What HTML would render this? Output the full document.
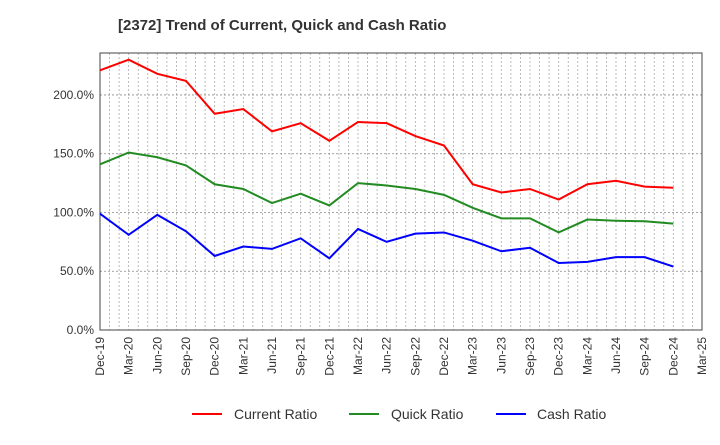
<!DOCTYPE html>
<html><head><meta charset="utf-8"><style>
body{margin:0;background:#fff;font-family:"Liberation Sans",sans-serif}
svg text{font-family:"Liberation Sans",sans-serif}
</style></head><body>
<svg id="c" width="720" height="440">
<text x="118" y="30" font-size="15" font-weight="bold" fill="#333">[2372]  Trend of Current, Quick and Cash Ratio</text>
<g id="grid"></g><g id="axes"></g><g id="series"></g>
<g>
<g><line x1="192" y1="414" x2="222" y2="414" stroke="#f00" stroke-width="2"/><text x="234" y="419" font-size="14" fill="#333">Current Ratio</text></g>
<g><line x1="349" y1="414" x2="379" y2="414" stroke="#228b22" stroke-width="2"/><text x="391" y="419" font-size="14" fill="#333">Quick Ratio</text></g>
<g><line x1="496" y1="414" x2="526" y2="414" stroke="#00f" stroke-width="2"/><text x="537" y="419" font-size="14" fill="#333">Cash Ratio</text></g>
</g>
</svg>
<script>
const categories=["Dec-19","Mar-20","Jun-20","Sep-20","Dec-20","Mar-21","Jun-21","Sep-21","Dec-21","Mar-22","Jun-22","Sep-22","Dec-22","Mar-23","Jun-23","Sep-23","Dec-23","Mar-24","Jun-24","Sep-24","Dec-24","Mar-25"];
const currentRatio=[221,230,218,212,184,188,169,176,161,177,176,165,157,124,117,120,111,124,127,122,121];
const quickRatio=[141,151,147,140,124,120,108,116,106,125,123,120,115,104,95,95,83,94,93,92.5,90.5];
const cashRatio=[99,81,98,84,63,71,69,78,61,86,75,82,83,76,67,70,57,58,62,62,54];
const yTicks=[0,50,100,150,200];
const yTickLabels=["0.0%","50.0%","100.0%","150.0%","200.0%"];
const L=100,R=702,T=53,B=330,YMAX=235.7;
const ns="http://www.w3.org/2000/svg";
const x=i=>L+(R-L)*i/(categories.length-1);
const y=v=>B-(B-T)*v/YMAX;
function mk(t,a,p){const e=document.createElementNS(ns,t);for(const k in a)e.setAttribute(k,a[k]);p.appendChild(e);return e;}
const grid=document.getElementById('grid'),axes=document.getElementById('axes'),ser=document.getElementById('series');
for(let m=1;m<(categories.length-1)*3;m++){const xx=L+(R-L)*m/((categories.length-1)*3);
const g=mk('line',{x1:xx,x2:xx,y1:T,y2:B,stroke:'#aaa','stroke-width':0.8,'stroke-dasharray':'2,2'},grid);

}
yTicks.forEach((v,i)=>{if(v>0){const g=mk('line',{x1:L,x2:R,y1:y(v),y2:y(v),stroke:'#888','stroke-width':0.8,'stroke-dasharray':'2,2'},grid);

}
const t=mk('text',{x:L-6,y:y(v)+4,'font-size':12,'text-anchor':'end',fill:'#333'},axes);t.textContent=yTickLabels[i];

});
const fr=mk('rect',{x:L,y:T,width:R-L,height:B-T,fill:'none',stroke:'#444','stroke-width':1},axes);


categories.forEach((c,i)=>{const t=mk('text',{x:0,y:0,'font-size':12,'text-anchor':'end',fill:'#333',transform:`translate(${x(i)+4},${B+7}) rotate(-90)`},axes);t.textContent=c;

});
[[currentRatio,'#f00','current-ratio-line'],[quickRatio,'#228b22','quick-ratio-line'],[cashRatio,'#00f','cash-ratio-line']].forEach(([d,col,n])=>{
const p=mk('polyline',{points:d.map((v,i)=>x(i)+','+y(v)).join(' '),fill:'none',stroke:col,'stroke-width':2},ser);

});
</script>
</body></html>
